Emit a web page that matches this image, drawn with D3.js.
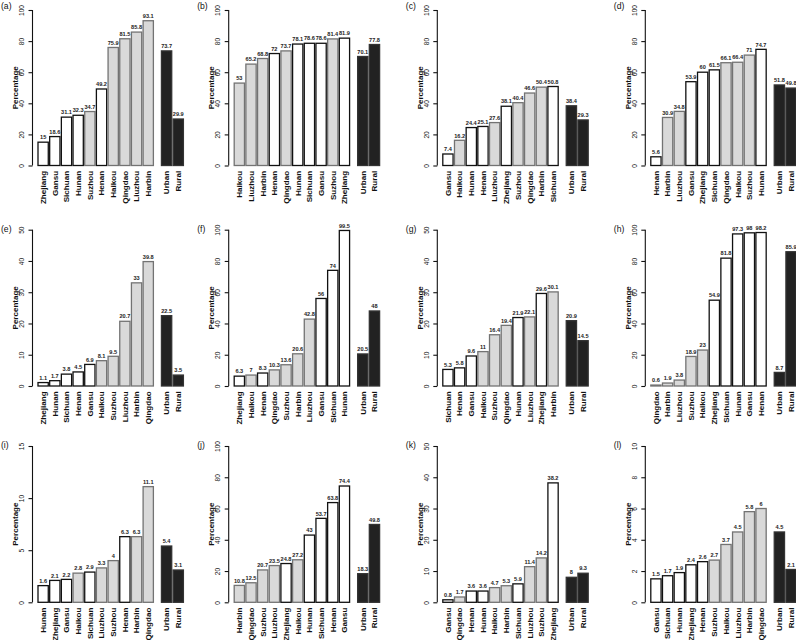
<!DOCTYPE html>
<html><head><meta charset="utf-8">
<script src="https://cdn.jsdelivr.net/npm/d3@7/dist/d3.min.js"></script>
<style>body{margin:0;background:#fff}svg{display:block}</style>
</head><body>
<script>
// ---- data ----
const cityGroup = ["Suzhou","Haikou","Qingdao","Liuzhou","Harbin"];
const groupNames = ["Urban","Rural"];

const catsA = ["Zhejiang","Gansu","Sichuan","Hunan","Suzhou","Henan","Haikou","Qingdao","Liuzhou","Harbin"];
const valsA = [15,18.6,31.1,32.3,34.7,49.2,75.9,81.5,85.8,93.1];
const grpA = [73.7,29.9];

const catsB = ["Haikou","Liuzhou","Harbin","Henan","Qingdao","Hunan","Sichuan","Gansu","Suzhou","Zhejiang"];
const valsB = [53,65.2,68.8,72,73.7,78.1,78.6,78.6,81.4,81.9];
const grpB = [70.1,77.8];

const catsC = ["Gansu","Haikou","Hunan","Henan","Liuzhou","Zhejiang","Suzhou","Qingdao","Harbin","Sichuan"];
const valsC = [7.4,16.2,24.4,25.1,27.6,38.1,40.4,46.6,50.4,50.8];
const grpC = [38.4,29.3];

const catsD = ["Henan","Harbin","Liuzhou","Gansu","Zhejiang","Sichuan","Qingdao","Haikou","Suzhou","Hunan"];
const valsD = [5.6,30.9,34.8,53.9,60,61.5,66.1,66.4,71,74.7];
const grpD = [51.8,49.8];

const catsE = ["Zhejiang","Hunan","Sichuan","Henan","Gansu","Haikou","Suzhou","Liuzhou","Harbin","Qingdao"];
const valsE = [1.1,1.7,3.8,4.5,6.9,8.1,9.5,20.7,33,39.8];
const grpE = [22.5,3.5];

const catsF = ["Zhejiang","Haikou","Henan","Qingdao","Suzhou","Harbin","Liuzhou","Gansu","Sichuan","Hunan"];
const valsF = [6.3,7,8.3,10.3,13.6,20.6,42.8,56,74,99.5];
const grpF = [20.5,48];

const catsG = ["Sichuan","Henan","Gansu","Haikou","Suzhou","Qingdao","Hunan","Liuzhou","Zhejiang","Harbin"];
const valsG = [5.3,5.8,9.6,11,16.4,19.4,21.9,22.1,29.6,30.1];
const grpG = [20.9,14.5];

const catsH = ["Qingdao","Harbin","Liuzhou","Suzhou","Haikou","Zhejiang","Sichuan","Hunan","Gansu","Henan"];
const valsH = [0.6,1.9,3.8,18.9,23,54.9,81.8,97.3,98,98.2];
const grpH = [8.7,85.9];

const catsI = ["Hunan","Zhejiang","Gansu","Haikou","Sichuan","Liuzhou","Suzhou","Henan","Harbin","Qingdao"];
const valsI = [1.6,2.1,2.2,2.8,2.9,3.3,4,6.3,6.3,11.1];
const grpI = [5.4,3.1];

const catsJ = ["Harbin","Qingdao","Suzhou","Liuzhou","Zhejiang","Haikou","Hunan","Sichuan","Henan","Gansu"];
const valsJ = [10.8,12.5,20.7,23.5,24.8,27.2,43,53.7,63.8,74.4];
const grpJ = [18.3,49.8];

const catsK = ["Gansu","Qingdao","Henan","Hunan","Haikou","Harbin","Sichuan","Liuzhou","Suzhou","Zhejiang"];
const valsK = [0.8,1.7,3.6,3.6,4.7,5.3,5.9,11.4,14.2,38.2];
const grpK = [8,9.3];

const catsL = ["Gansu","Sichuan","Hunan","Zhejiang","Henan","Suzhou","Haikou","Liuzhou","Harbin","Qingdao"];
const valsL = [1.5,1.7,1.9,2.4,2.6,2.7,3.7,4.5,5.8,6];
const grpL = [4.5,2.1];

const ticks100 = [0,20,40,60,80,100];
const ticks50 = [0,10,20,30,40,50];
const ticks15 = [0,5,10,15];
const ticks10 = [0,2,4,6,8,10];

const panelLabels = ["(a)","(b)","(c)","(d)","(e)","(f)","(g)","(h)","(i)","(j)","(k)","(l)"];
const panelData = [
  [catsA,valsA,grpA,ticks100],[catsB,valsB,grpB,ticks100],[catsC,valsC,grpC,ticks100],[catsD,valsD,grpD,ticks100],
  [catsE,valsE,grpE,ticks50],[catsF,valsF,grpF,ticks100],[catsG,valsG,grpG,ticks50],[catsH,valsH,grpH,ticks100],
  [catsI,valsI,grpI,ticks15],[catsJ,valsJ,grpJ,ticks100],[catsK,valsK,grpK,ticks50],[catsL,valsL,grpL,ticks10]
];

// ---- layout ----
const W = 796, H = 640;
const colAxis = [32.5, 228.7, 437.3, 645.3];
const rowTop = [10, 229.7, 446];
const rowBot = [165.5, 386, 602.3];
const font = "'Liberation Sans', Arial, Helvetica, sans-serif";

const svg = d3.select("body").append("svg").attr("width", W).attr("height", H)
  .style("font-family", font);

panelData.forEach((pd, k) => {
  const [cats, vals, grp, ticks] = pd;
  const col = k % 4, row = Math.floor(k / 4);
  const ax = colAxis[col];
  const g = svg.append("g");

  const items = cats.map((c, i) => ({name: c, v: vals[i], pos: i,
      type: cityGroup.includes(c) ? "city" : "prov"}))
    .concat(groupNames.map((c, i) => ({name: c, v: grp[i], pos: 10.57 + i, type: "grp"})));

  const x = d3.scaleLinear().domain([0, 12.45]).range([ax + 5.5, ax + 5.5 + 145.4]);
  const y = d3.scaleLinear().domain([0, d3.max(ticks)]).range([rowBot[row], rowTop[row]]);
  const bw = 0.88;

  // bars
  g.selectAll("rect.bar").data(items).join("rect")
    .attr("x", d => x(d.pos))
    .attr("width", d => x(d.pos + bw) - x(d.pos))
    .attr("y", d => y(d.v))
    .attr("height", d => y(0) - y(d.v))
    .attr("fill", d => d.type === "city" ? "#d9d9d9" : d.type === "grp" ? "#222222" : "#ffffff")
    .attr("stroke", d => d.type === "city" ? "#737373" : d.type === "grp" ? "#333333" : "#111111")
    .attr("stroke-width", 1.3);

  // value labels
  g.selectAll("text.val").data(items).join("text")
    .attr("x", d => x(d.pos + bw / 2))
    .attr("y", d => y(d.v) - 2.8)
    .attr("text-anchor", "middle")
    .attr("font-size", 5.6)
    .attr("font-weight", "bold")
    .attr("fill", "#222")
    .text(d => d.v);

  // category labels
  g.selectAll("text.cat").data(items).join("text")
    .attr("transform", d => `translate(${x(d.pos + bw / 2)},${rowBot[row] + 5.3}) rotate(-90)`)
    .attr("dy", "0.35em")
    .attr("text-anchor", "end")
    .attr("font-size", 8.1)
    .attr("font-weight", "bold")
    .attr("fill", "#111")
    .text(d => d.name);

  // y axis
  const axis = d3.axisLeft(y).tickValues(ticks).tickSize(4).tickPadding(0).tickFormat(d3.format("d"));
  const ag = g.append("g").attr("transform", `translate(${ax},0)`).call(axis);
  ag.select(".domain").attr("d", `M0,${y(0)}V${y(d3.max(ticks))}`).attr("stroke", "#111").attr("stroke-width", 1.1);
  ag.selectAll(".tick line").attr("stroke", "#111").attr("stroke-width", 1.1);
  ag.selectAll(".tick text")
    .attr("x", null).attr("dy", null)
    .attr("transform", "translate(-10.6,0) rotate(-90)")
    .attr("dy", "0.35em")
    .attr("text-anchor", "middle")
    .attr("font-size", 6.6)
    .attr("font-family", font)
    .attr("fill", "#111");

  // y label
  g.append("text")
    .attr("transform", `translate(${ax - 17.5},${(rowTop[row] + rowBot[row]) / 2}) rotate(-90)`)
    .attr("dy", "0.35em")
    .attr("text-anchor", "middle")
    .attr("font-size", 8)
    .attr("font-weight", "bold")
    .attr("fill", "#111")
    .text("Percentage");

  // panel label
  const labY = [8.9, 232.2, 448.3];
  g.append("text")
    .attr("x", ax - 31.5)
    .attr("y", labY[row])
    .attr("font-size", 8.6)
    .attr("fill", "#111")
    .text(panelLabels[k]);
});
</script>
</body></html>
